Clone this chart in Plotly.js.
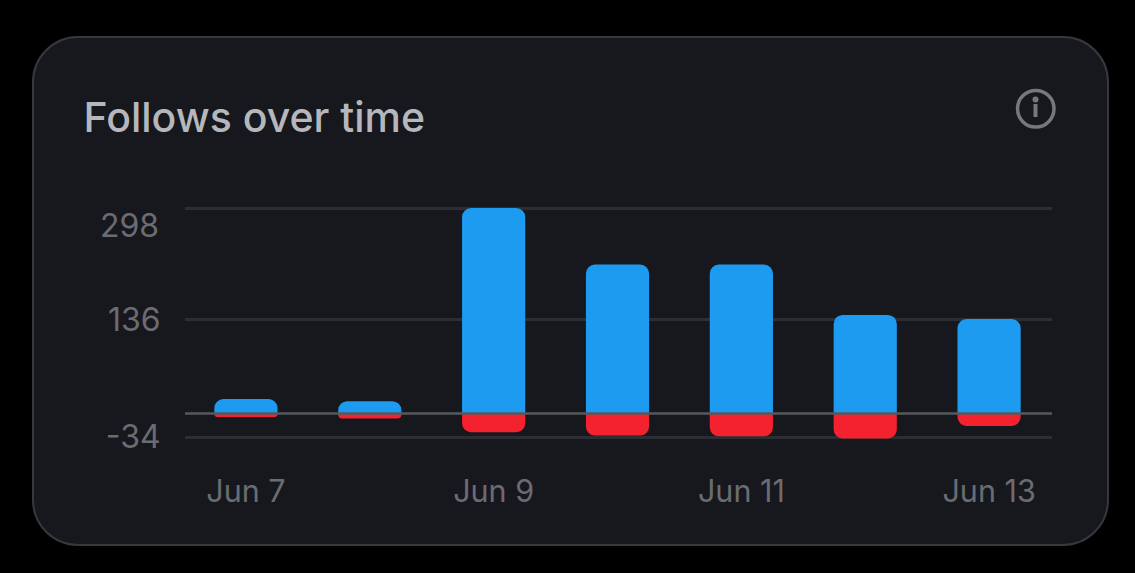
<!DOCTYPE html>
<html>
<head>
<meta charset="utf-8">
<script src="https://cdn.plot.ly/plotly-3.0.1.min.js"></script>
<style>
html,body{margin:0;padding:0;background:#000;width:1135px;height:573px;overflow:hidden}
#card{position:absolute;left:32px;top:36px;width:1073px;height:506px;border:2.5px solid #37383d;border-radius:46px;background:#17181e}
#chart{position:absolute;left:0;top:0;width:1135px;height:573px}
</style>
</head>
<body>
<div id="card"></div>
<div id="chart"></div>
<script>
const categories = ['Jun 7','Jun 8','Jun 9','Jun 10','Jun 11','Jun 12','Jun 13'];
const follows = [21, 18, 298, 216, 216, 143, 137];
const unfollows = [-5, -7, -27, -32, -33, -36, -18];
const xTicks = ['Jun 7','Jun 9','Jun 11','Jun 13'];
const yTicks = [-34, 136, 298];
const yTickText = ['-34', '136', ''];
const yTopLabel = '298';

const W = 1135, H = 573;
const plot = {l:185, r:1052, t:204, b:441};
const px = v => (v - plot.l) / (plot.r - plot.l);
const py = v => (plot.b - v) / (plot.b - plot.t);
const fontFamily = 'Inter, Roboto, sans-serif';

const traces = [
  {type:'bar', name:'Follows', x:categories, y:follows, marker:{color:'#1d9bf0', line:{width:0}}, cliponaxis:false, hoverinfo:'x+y'},
  {type:'bar', name:'Unfollows', x:categories, y:unfollows, marker:{color:'#f4212e', line:{width:0}}, cliponaxis:false, hoverinfo:'x+y'}
];

const layout = {
  width:W, height:H,
  margin:{l:plot.l, r:W-plot.r, t:plot.t, b:H-plot.b, pad:0},
  paper_bgcolor:'rgba(0,0,0,0)',
  plot_bgcolor:'rgba(0,0,0,0)',
  barmode:'relative',
  bargap:0.49,
  barcornerradius:9,
  showlegend:false,
  title:{text:'Follows over time', font:{family:fontFamily, size:41, color:'#b6b7bc', weight:500},
    x:83.5/W, xanchor:'left', xref:'container', y:1-118/H, yanchor:'middle', yref:'container'},
  xaxis:{type:'category', categoryorder:'array', categoryarray:categories,
    range:[-0.492, 6.508],
    tickmode:'array', tickvals:xTicks, ticktext:xTicks,
    showgrid:false, zeroline:false, showline:false,
    ticks:'outside', ticklen:23, tickcolor:'rgba(0,0,0,0)',
    tickfont:{family:fontFamily, size:30.5, color:'#6b6c72'}},
  yaxis:{range:[-39.8, 303.8], tickmode:'array', tickvals:yTicks, ticktext:yTickText,
    showgrid:true, gridcolor:'#2d2e33', gridwidth:2.5, zeroline:false, showline:false,
    ticks:'outside', ticklen:17, tickcolor:'rgba(0,0,0,0)',
    tickfont:{family:fontFamily, size:32, color:'#6b6c72'}},
  annotations:[
    {text:yTopLabel, xref:'paper', yref:'y', x:0, y:yTicks[2], xanchor:'right', yanchor:'middle',
      xshift:-24, yshift:-17, showarrow:false, font:{family:fontFamily, size:32, color:'#6b6c72'}}
  ],
  shapes:[
    {type:'line', xref:'paper', yref:'y', x0:0, x1:1, y0:0, y1:0, layer:'above',
      line:{color:'#57585e', width:2.5}},
    {type:'circle', xref:'paper', yref:'paper', x0:px(1017.5), x1:px(1054), y0:py(127), y1:py(90.5),
      line:{color:'#77787e', width:3.5}, fillcolor:'rgba(0,0,0,0)'},
    {type:'line', xref:'paper', yref:'paper', x0:px(1035.5), x1:px(1035.5), y0:py(104), y1:py(117),
      line:{color:'#77787e', width:4}},
    {type:'circle', xref:'paper', yref:'paper', x0:px(1032.5), x1:px(1038.5), y0:py(102.5), y1:py(96.5),
      line:{width:0}, fillcolor:'#77787e'}
  ]
};

Plotly.newPlot('chart', traces, layout, {displayModeBar:false, responsive:false});
</script>
</body>
</html>
